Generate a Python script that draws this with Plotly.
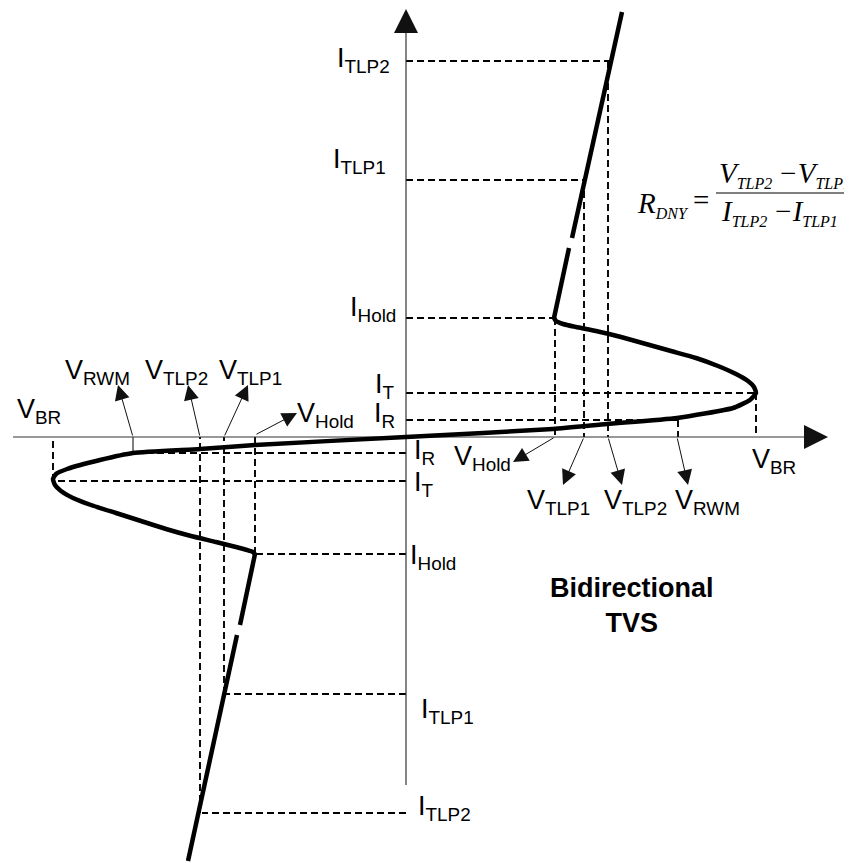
import plotly.graph_objects as go

# --- Diagram levels (1 unit = 1 px, origin at the crossing of the V and I axes) ---
# first quadrant (positive polarity)
V_HOLD, V_TLP1, V_TLP2, V_RWM, V_BR = 149, 178, 202, 272, 350
I_R, I_T, I_HOLD, I_TLP1, I_TLP2 = 17, 44, 119, 257, 376
# third quadrant (negative polarity)
V_HOLD_N, V_TLP1_N, V_TLP2_N, V_RWM_N, V_BR_N = -151, -182, -206, -273, -353
I_R_N, I_T_N, I_HOLD_N, I_TLP1_N, I_TLP2_N = -16, -44, -117, -257, -376

# snapback curve: lower hold point -> lower breakdown -> origin -> upper breakdown -> upper hold point
curve_v = [-151, -153, -159, -170, -190, -215, -240, -265, -290, -315, -333, -345, -351,
           -353, -350, -339, -306, -273, -206, -151, 0, 147, 201, 271, 327, 344, 350,
           348, 342, 330, 312, 290, 265, 240, 215, 190, 170, 157, 150, 148]
curve_i = [-117, -115, -113, -110, -105, -99, -92, -84, -76, -68, -61, -54, -48,
           -42, -37, -32, -23, -16, -12, -8, 0, 8, 13, 19, 29, 37, 44,
           50, 56, 63, 71, 79, 86, 93, 100, 106, 110, 113, 116, 119]

# on-state (TLP) lines, drawn with a break in the middle
tlp_up_v = [148, 163, None, 166, 216]
tlp_up_i = [119, 189, None, 199, 425]
tlp_dn_v = [-151, -166, None, -169, -218]
tlp_dn_i = [-117, -188, None, -198, -424]

PX_W, PX_H = 852, 863
# the page body adds an 8 px margin, so the origin sits at (398, 429) inside the figure
X0, Y0 = 398, 429

fig = go.Figure()


def add_lines(pairs, **line):
    xs, ys = [], []
    for (xa, ya), (xb, yb) in pairs:
        xs += [xa, xb, None]
        ys += [ya, yb, None]
    fig.add_trace(go.Scatter(x=xs, y=ys, mode='lines', line=line,
                             hoverinfo='skip', showlegend=False))


# dashed projection lines
dash_pairs = [
    ((0, I_TLP2), (V_TLP2 + 4, I_TLP2)),
    ((0, I_TLP1), (V_TLP1, I_TLP1)),
    ((0, I_HOLD), (V_HOLD, I_HOLD)),
    ((0, I_T), (V_BR, I_T)),
    ((0, I_R), (V_RWM, I_R)),
    ((V_HOLD, I_HOLD), (V_HOLD, 0)),
    ((V_TLP1, I_TLP1), (V_TLP1, 0)),
    ((V_TLP2, I_TLP2), (V_TLP2, 0)),
    ((V_BR, I_T), (V_BR, 0)),
    ((V_RWM, I_R), (V_RWM, 0)),
    ((0, I_TLP2_N), (V_TLP2_N + 2, I_TLP2_N)),
    ((0, I_TLP1_N), (V_TLP1_N - 2, I_TLP1_N)),
    ((0, I_HOLD_N), (V_HOLD_N, I_HOLD_N)),
    ((0, I_T_N), (V_BR_N, I_T_N)),
    ((0, I_R_N), (V_RWM_N, I_R_N)),
    ((V_HOLD_N, I_HOLD_N), (V_HOLD_N, 0)),
    ((V_TLP1_N, I_TLP1_N), (V_TLP1_N, 0)),
    ((V_TLP2_N, I_TLP2_N), (V_TLP2_N, 0)),
    ((V_BR_N, I_T_N), (V_BR_N, 0)),
]
add_lines(dash_pairs, color='black', width=1.9, dash='7px,4px')
add_lines([((V_RWM_N, I_R_N), (V_RWM_N, 0))], color='black', width=1)

# axes
add_lines([((-393, 0), (410, 0)), ((0, -348), (0, 416))], color='#333333', width=1.2)

# characteristic
fig.add_trace(go.Scatter(x=curve_v, y=curve_i, mode='lines',
                         line=dict(color='black', width=4.5, shape='spline', smoothing=0.5),
                         hoverinfo='skip', showlegend=False))
for xs, ys in [(tlp_up_v, tlp_up_i), (tlp_dn_v, tlp_dn_i)]:
    fig.add_trace(go.Scatter(x=xs, y=ys, mode='lines', line=dict(color='black', width=4.5),
                             hoverinfo='skip', showlegend=False))

SANS = 'Liberation Sans, Arial, sans-serif'
SERIF = 'Liberation Serif, Times New Roman, serif'
annotations = []

# axis arrow heads
for tip, tail in [((422, 0), (400, 0)), ((0, 428), (0, 406))]:
    annotations.append(dict(x=tip[0], y=tip[1], ax=tail[0], ay=tail[1], xref='x', yref='y',
                            axref='x', ayref='y', text='', showarrow=True, arrowhead=2,
                            arrowsize=4, arrowwidth=1.2, arrowcolor='#111111'))

# pointer arrows from the axis to the voltage labels
pointers = [
    ((V_HOLD, 0), (107, -25)),
    ((V_TLP1, 0), (157, -48)),
    ((V_TLP2, 0), (216, -48)),
    ((V_RWM - 1, 0), (282, -48)),
    ((V_RWM_N, 0), (-288, 52)),
    ((V_TLP2_N, 0), (-218, 52)),
    ((V_TLP1_N, 0), (-158, 52)),
    ((V_HOLD_N, 2), (-109, 24)),
]
for tail, tip in pointers:
    annotations.append(dict(x=tip[0], y=tip[1], ax=tail[0], ay=tail[1], xref='x', yref='y',
                            axref='x', ayref='y', text='', showarrow=True, arrowhead=2,
                            arrowsize=3, arrowwidth=1, arrowcolor='#111111'))


def sub(main, s):
    return f'{main}<sub>{s}</sub>'


# (text, x, y, xanchor)
labels = [
    (sub('I', 'TLP2'), -14, 377, 'right'),
    (sub('I', 'TLP1'), -18, 276, 'right'),
    (sub('I', 'Hold'), -8, 128, 'right'),
    (sub('I', 'T'), -9, 51, 'right'),
    (sub('I', 'R'), -9, 22, 'right'),
    (sub('I', 'R'), 6, -15, 'left'),
    (sub('I', 'T'), 6, -47, 'left'),
    (sub('I', 'Hold'), 2, -120, 'left'),
    (sub('I', 'TLP1'), 13, -274, 'left'),
    (sub('I', 'TLP2'), 10, -371, 'left'),
    (sub('V', 'Hold'), 46, -21, 'left'),
    (sub('V', 'TLP1'), 119, -65, 'left'),
    (sub('V', 'TLP2'), 196, -65, 'left'),
    (sub('V', 'RWM'), 267, -65, 'left'),
    (sub('V', 'BR'), 344, -24, 'left'),
    (sub('V', 'BR'), -391, 26, 'left'),
    (sub('V', 'RWM'), -343, 65, 'left'),
    (sub('V', 'TLP2'), -263, 65, 'left'),
    (sub('V', 'TLP1'), -189, 65, 'left'),
    (sub('V', 'Hold'), -111, 22, 'left'),
]
for text, x, y, xa in labels:
    annotations.append(dict(x=x, y=y, xref='x', yref='y', text=text, showarrow=False,
                            xanchor=xa, yanchor='middle',
                            font=dict(family=SANS, size=27, color='black')))

annotations.append(dict(x=226, y=-168, xref='x', yref='y', showarrow=False,
                        text='<b>Bidirectional</b><br><b>TVS</b>', align='center',
                        xanchor='center', yanchor='middle',
                        font=dict(family=SANS, size=27, color='black')))


# dynamic resistance formula (large italic letters, small subscripts)
def fsub(main, s):
    return f'{main}<sub><span style="font-size:16px">{s}</span></sub>'


FORMULA_FONT = dict(family=SERIF, size=29, color='black')
annotations += [
    dict(x=229, y=233, xref='x', yref='y', showarrow=False, xanchor='left', yanchor='middle',
         text='<i>' + fsub('R', 'DNY') + '</i>', font=FORMULA_FONT),
    dict(x=285, y=237, xref='x', yref='y', showarrow=False, xanchor='left', yanchor='middle',
         text='=', font=FORMULA_FONT),
    dict(x=311, y=263, xref='x', yref='y', showarrow=False, xanchor='left', yanchor='middle',
         text='<i>' + fsub('V', 'TLP2') + '\u2009\u2212' + fsub('V', 'TLP1') + '</i>',
         font=FORMULA_FONT),
    dict(x=313, y=225, xref='x', yref='y', showarrow=False, xanchor='left', yanchor='middle',
         text='<i>' + fsub('I', 'TLP2') + '\u2009\u2212' + fsub('I', 'TLP1') + '</i>',
         font=FORMULA_FONT),
]
fig.add_shape(type='line', x0=310, x1=446, y0=244, y1=244, xref='x', yref='y',
              line=dict(color='black', width=1.2))

fig.update_layout(
    width=PX_W, height=PX_H,
    margin=dict(l=0, r=0, t=0, b=0),
    paper_bgcolor='white', plot_bgcolor='white',
    annotations=annotations,
    xaxis=dict(range=[-X0, PX_W - X0], visible=False, fixedrange=True),
    yaxis=dict(range=[Y0 - PX_H, Y0], visible=False, fixedrange=True),
)

fig.write_html('out.html')
